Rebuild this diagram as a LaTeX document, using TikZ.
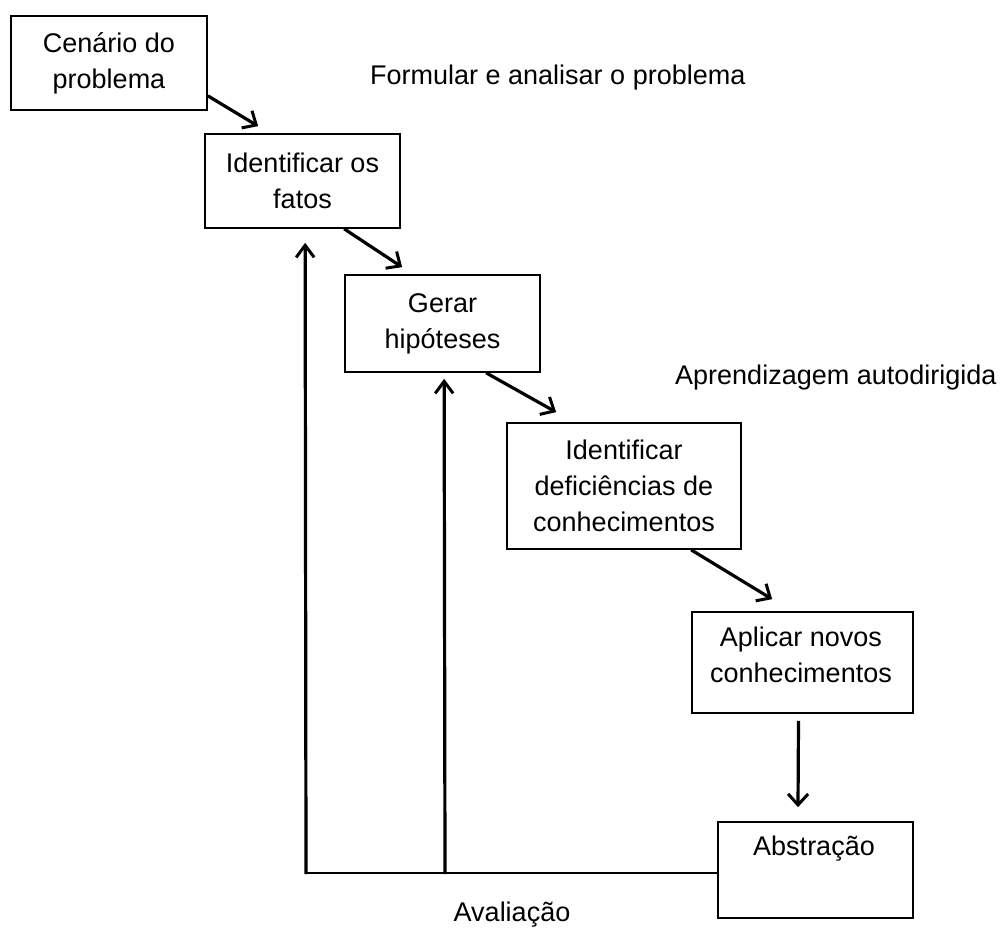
\documentclass[tikz,border=0pt]{standalone}
\usepackage{fontspec}
\setmainfont{Liberation Sans}
\usetikzlibrary{arrows.meta,calc}
\begin{document}
\begin{tikzpicture}[x=1pt,y=-1pt,
  every node/.style={font=\fontsize{27}{36}\selectfont},
  box/.style={draw,line width=1.7pt,align=center,inner sep=0pt},
  txt/.style={align=center,inner sep=0pt},
  arr/.style={line width=3.2pt,-{Straight Barb[length=11pt,width=20pt,line width=3pt]}},
  fb/.style={line width=3.2pt,-{Straight Barb[length=12pt,width=18pt,line width=3pt]}},
  base/.style={line width=2.2pt}]
\useasboundingbox (0,0) rectangle (1001,934);
\node[box,minimum width=196pt,minimum height=94pt] (b1) at (109,63) {Cenário do\\problema};
\node[box,minimum width=195pt,minimum height=94pt] (b2) at (302.5,181) {Identificar os\\fatos};
\node[box,minimum width=195pt,minimum height=97pt] (b3) at (442.5,323.5) {Gerar\\hipóteses};
\node[box,minimum width=234pt,minimum height=126pt] (b4) at (624,486) {Identificar\\deficiências de\\conhecimentos};
\node[box,minimum width=221pt,minimum height=101pt] (b5) at (802.5,662.5) {};
\node[txt] (t5) at (801,655) {Aplicar novos\\conhecimentos};
\node[box,minimum width=195pt,minimum height=96pt] (b6) at (815.5,870) {};
\node[txt] (t6) at (814,849) {Abstração};
\node[txt,anchor=west] (l1) at (370,78) {Formular e analisar o problema};
\node[txt,anchor=west] (l2) at (675,378) {Aprendizagem autodirigida};
\node[txt] (l3) at (512,915) {Avaliação};
\draw[arr] ([yshift=15pt]b1.south east) -- ([xshift=54pt,yshift=7pt]b2.north west);
\draw[arr] ([xshift=140pt]b2.south west) -- ([xshift=58pt,yshift=7pt]b3.north west);
\draw[arr] ([xshift=142pt]b3.south west) -- ([xshift=50pt,yshift=10pt]b4.north west);
\draw[arr] ([xshift=185pt]b4.south west) -- ([xshift=81pt,yshift=12pt]b5.north west);
\draw[arr] ([xshift=-4pt,yshift=-7pt]b5.south) -- ([xshift=-17.5pt,yshift=14pt]b6.north);
\coordinate (corner) at (306,873);
\coordinate (mid) at (445,873);
\draw[base] (b6.west |- corner) -- ([xshift=-1.5pt]corner);
\draw[fb] ([yshift=-1.1pt]corner) -- ([xshift=101pt,yshift=-14pt]b2.south west);
\draw[fb] ([yshift=-1.1pt]mid) -- ([xshift=100pt,yshift=-6pt]b3.south west);
\end{tikzpicture}
\end{document}
